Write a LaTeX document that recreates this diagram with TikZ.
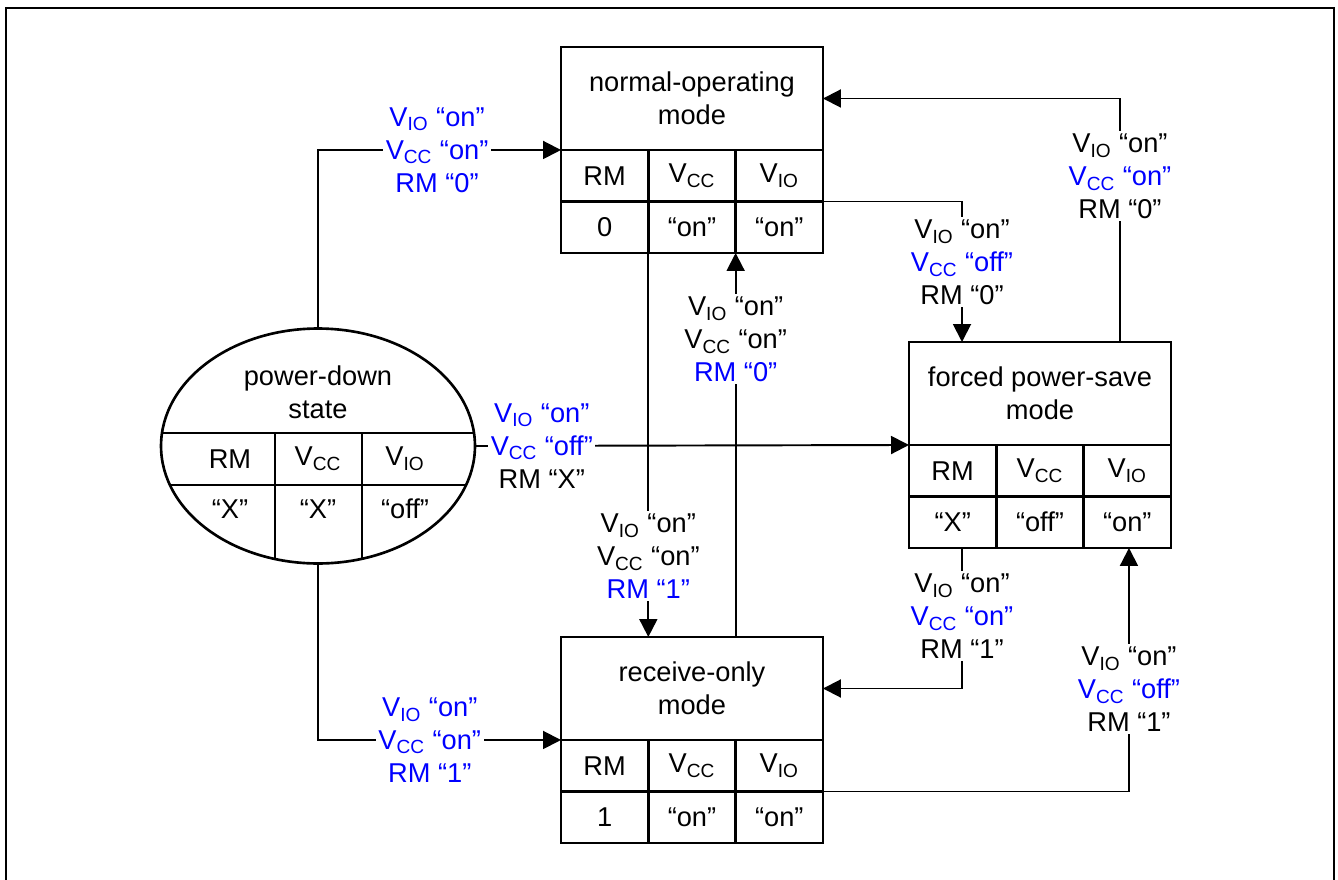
\documentclass[tikz,border=0pt]{standalone}
\usepackage{fontspec}
\setmainfont{Liberation Sans}
\usetikzlibrary{shapes.geometric, arrows.meta, positioning, calc}

\newcommand{\vio}{V\textsubscript{IO}}
\newcommand{\vcc}{V\textsubscript{CC}}

\begin{document}
\begin{tikzpicture}[x=0.02cm, y=-0.02cm, font=\fontsize{15.5}{18.7}\selectfont]
        \tikzstyle{modebox} = [rectangle, draw=black, line width=1.5pt, outer sep=0pt, minimum width=5.24cm, minimum height=2.06cm, align=center]
        \tikzstyle{cell} = [rectangle, draw=black, line width=1.5pt, outer sep=0pt, minimum width=1.7467cm, minimum height=1.03cm, inner sep=0pt]
        \tikzstyle{statebox} = [ellipse, draw=black, line width=1.5pt, outer sep=0pt, minimum width=6.28cm, minimum height=4.7cm, inner sep=0pt]
        \tikzstyle{arrow} = [line width=1.1pt, -{Triangle[length=0.36cm, width=0.36cm]}]
        \tikzstyle{cond} = [fill=white, inner sep=1.5pt, align=center]

        \useasboundingbox (0,0) rectangle (1338,879);
        \draw [line width=1.3pt] (6,885) -- (6,8) -- (1334,8) -- (1334,885);

        % normal-operating mode
        \node (nrm) [modebox, anchor=north west] at (561,47) {normal-operating\\mode};
        \node (nrm-rm) [cell, anchor=north west] at (nrm.south west) {RM};
        \node (nrm-vcc) [cell, right=0pt of nrm-rm] {\vcc};
        \node (nrm-vio) [cell, right=0pt of nrm-vcc] {\vio};
        \node (nrm-rmval) [cell, below=0pt of nrm-rm] {0};
        \node (nrm-vccval) [cell, below=0pt of nrm-vcc] {“on”};
        \node (nrm-vioval) [cell, below=0pt of nrm-vio] {“on”};

        % forced power-save mode
        \node (fps) [modebox, anchor=north west] at (909,342) {forced power-save\\mode};
        \node (fps-rm) [cell, anchor=north west] at (fps.south west) {RM};
        \node (fps-vcc) [cell, right=0pt of fps-rm] {\vcc};
        \node (fps-vio) [cell, right=0pt of fps-vcc] {\vio};
        \node (fps-rmval) [cell, below=0pt of fps-rm] {“X”};
        \node (fps-vccval) [cell, below=0pt of fps-vcc] {“off”};
        \node (fps-vioval) [cell, below=0pt of fps-vio] {“on”};

        % receive-only mode
        \node (rcv) [modebox, anchor=north west] at (561,637) {receive-only\\mode};
        \node (rcv-rm) [cell, anchor=north west] at (rcv.south west) {RM};
        \node (rcv-vcc) [cell, right=0pt of rcv-rm] {\vcc};
        \node (rcv-vio) [cell, right=0pt of rcv-vcc] {\vio};
        \node (rcv-rmval) [cell, below=0pt of rcv-rm] {1};
        \node (rcv-vccval) [cell, below=0pt of rcv-vcc] {“on”};
        \node (rcv-vioval) [cell, below=0pt of rcv-vio] {“on”};

        % power-down state
        \node (pwd) [statebox] at (318,446) {};
        \begin{scope}
            \clip (pwd.center) ellipse [x radius=3.14cm, y radius=2.35cm];
            \draw [line width=1.5pt] (150,433) -- (490,433);
            \draw [line width=1.5pt] (150,485) -- (490,485);
            \draw [line width=1.5pt] (275,433) -- (275,570);
            \draw [line width=1.5pt] (362,433) -- (362,570);
        \end{scope}
        \node (pwd-name) [align=center] at (318,392) {power-down\\state};
        \node (pwd-rm) at (230,459) {RM};
        \node (pwd-vcc) at (318,459) {\vcc};
        \node (pwd-vio) at (405,459) {\vio};
        \node (pwd-rmval) at (230,509) {“X”};
        \node (pwd-vccval) at (318,509) {“X”};
        \node (pwd-vioval) at (405,509) {“off”};

        \draw [arrow] (pwd.north) |- node[cond, text=blue, pos=0.745] {\vio{} “on”\\\vcc{} “on”\\RM “0”} (nrm.south west);
        \draw [arrow] (pwd.south) |- node[cond, text=blue, pos=0.73] {\vio{} “on”\\\vcc{} “on”\\RM “1”} (rcv.south west);
        \draw [arrow] (pwd.east) -- node[cond, pos=0.154] {\textcolor{blue}{\vio{} “on”}\\\textcolor{blue}{\vcc{} “off”}\\RM “X”} (fps.south west);
        \draw [arrow] (nrm-rmval.south east) -- node[cond, pos=0.79] {\vio{} “on”\\\vcc{} “on”\\\textcolor{blue}{RM “1”}} (nrm-rmval.south east |- rcv.north);
        \draw [arrow] (nrm-vccval.south east |- rcv.north) -- node[cond, pos=0.775] {\vio{} “on”\\\vcc{} “on”\\\textcolor{blue}{RM “0”}} (nrm-vccval.south east);
        \draw [arrow] (nrm-vioval.north east) -| node[cond, pos=0.716] {\vio{} “on”\\\textcolor{blue}{\vcc{} “off”}\\RM “0”} ([xshift=1.06cm]fps.north west);
        \draw [arrow] ([xshift=-1.02cm]fps.north east) |- node[cond, pos=0.34] {\vio{} “on”\\\textcolor{blue}{\vcc{} “on”}\\RM “0”} (nrm.east);
        \draw [arrow] ([xshift=1.06cm]fps-rmval.south west) |- node[cond, pos=0.243] {\vio{} “on”\\\textcolor{blue}{\vcc{} “on”}\\RM “1”} (rcv.east);
        \draw [arrow] (rcv-vio.south east) -| node[cond, pos=0.71] {\vio{} “on”\\\textcolor{blue}{\vcc{} “off”}\\RM “1”} ([xshift=-0.84cm]fps-vioval.south east);
    \end{tikzpicture}
\end{document}
